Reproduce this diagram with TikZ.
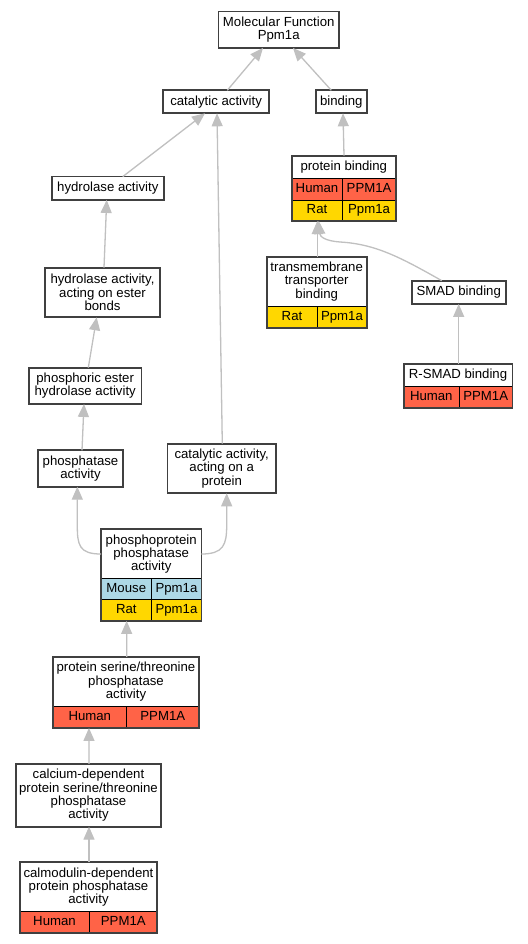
\documentclass[tikz,border=0pt]{standalone}
\usepackage{fontspec}
\setmainfont{Liberation Sans}
\usetikzlibrary{arrows.meta,fit}
\definecolor{human}{HTML}{FF6347}
\definecolor{ratcol}{HTML}{FFD700}
\definecolor{mousecol}{HTML}{ADD8E6}
\definecolor{edgegray}{HTML}{C0C0C0}
\definecolor{framegray}{HTML}{404040}
\begin{document}
\begin{tikzpicture}[x=1pt,y=-1pt,
  every node/.style={inner sep=0pt, outer sep=0pt, font=\fontsize{13.2}{13.4}\selectfont, align=center},
  gbox/.style={draw=framegray, line width=1.7pt, fill=white},
  ttl/.style={fill=white},
  tcell/.style={draw=black, line width=0.9pt, text height=9.4pt, text depth=2.8pt},
  hum/.style={tcell, fill=human},
  ratc/.style={tcell, fill=ratcol},
  mou/.style={tcell, fill=mousecol},
  tframe/.style={draw=framegray, line width=1.7pt, fit=#1},
  conn/.style={draw=edgegray, color=edgegray, line width=1.3pt, -{Triangle[length=13pt,width=11pt]}}
]
\fill[white] (0,0) rectangle (527,944);
\useasboundingbox (0,0) rectangle (527,944);

% single boxes
\node[gbox, minimum width=120.7, minimum height=36.3] (mf) at (278.7,29.8) {Molecular Function\\Ppm1a};
\node[gbox, minimum width=105.6, minimum height=23] (cat) at (216.1,101.8) {catalytic activity};
\node[gbox, minimum width=51.3, minimum height=23] (bind) at (341.3,101.8) {binding};
\node[gbox, minimum width=112.3, minimum height=23.3] (ha) at (107.8,188.3) {hydrolase activity};
\node[gbox, minimum width=115, minimum height=49.6] (haeb) at (102.5,292.5) {hydrolase activity,\\acting on ester\\bonds};
\node[gbox, minimum width=94, minimum height=23.3] (smad) at (458.7,292.3) {SMAD binding};
\node[gbox, minimum width=112.3, minimum height=36.3] (pe) at (85.2,385.8) {phosphoric ester\\hydrolase activity};
\node[gbox, minimum width=84.4, minimum height=36.4] (pa) at (80.5,468.5) {phosphatase\\activity};
\node[gbox, minimum width=108.7, minimum height=49.6] (capro) at (221.7,468.5) {catalytic activity,\\acting on a\\protein};
\node[gbox, minimum width=145.6, minimum height=62.7] (cd) at (88.5,795.3) {calcium-dependent\\protein serine/threonine\\phosphatase\\activity};

% protein binding
\node[ttl, minimum width=104.3, minimum height=22.6] (pb) at (343.8,167) {protein binding};
\node[hum, minimum width=50.6, minimum height=21.7] (pbh1) at (317,189.1) {Human};
\node[hum, minimum width=53.7, minimum height=21.7] (pbh2) at (369.1,189.1) {PPM1A};
\node[ratc, minimum width=50.6, minimum height=21] (pbr1) at (317,210.5) {Rat};
\node[ratc, minimum width=53.7, minimum height=21] (pbr2) at (369.1,210.5) {Ppm1a};
\node[tframe={(pb)(pbr1)(pbr2)}] (pbf) {};

% transmembrane transporter binding
\node[ttl, minimum width=100, minimum height=49.3] (tm) at (316.7,281.3) {transmembrane\\transporter\\binding};
\node[ratc, minimum width=50.6, minimum height=21.7] (tmr1) at (292,316.8) {Rat};
\node[ratc, minimum width=49.4, minimum height=21.7] (tmr2) at (342,316.8) {Ppm1a};
\node[tframe={(tm)(tmr1)(tmr2)}] (tmf) {};

% R-SMAD binding
\node[ttl, minimum width=108.6, minimum height=22.7] (rsmad) at (458,375.3) {R-SMAD binding};
\node[hum, minimum width=55.3, minimum height=21] (rsh1) at (431.3,397.2) {Human};
\node[hum, minimum width=53.3, minimum height=21] (rsh2) at (485.7,397.2) {PPM1A};
\node[tframe={(rsmad)(rsh1)(rsh2)}] (rsmadf) {};

% phosphoprotein phosphatase activity
\node[ttl, minimum width=100.3, minimum height=49.4] (ppa) at (151.2,554) {phosphoprotein\\phosphatase\\activity};
\node[mou, minimum width=50.7, minimum height=21] (ppm1) at (126.3,589.2) {Mouse};
\node[mou, minimum width=49.6, minimum height=21] (ppm2) at (176.5,589.2) {Ppm1a};
\node[ratc, minimum width=50.7, minimum height=21.3] (ppr1) at (126.3,610.3) {Rat};
\node[ratc, minimum width=49.6, minimum height=21.3] (ppr2) at (176.5,610.3) {Ppm1a};
\node[tframe={(ppa)(ppr1)(ppr2)}] (ppaf) {};

% protein serine/threonine phosphatase activity
\node[ttl, minimum width=146, minimum height=49.7] (pst) at (126,681.8) {protein serine/threonine\\phosphatase\\activity};
\node[hum, minimum width=73.7, minimum height=21.3] (psth1) at (89.8,717.3) {Human};
\node[hum, minimum width=72.3, minimum height=21.3] (psth2) at (162.8,717.3) {PPM1A};
\node[tframe={(pst)(psth1)(psth2)}] (pstf) {};

% calmodulin-dependent protein phosphatase activity
\node[ttl, minimum width=137.6, minimum height=49.4] (cm) at (88.5,887) {calmodulin-dependent\\protein phosphatase\\activity};
\node[hum, minimum width=69.6, minimum height=21.6] (cmh1) at (54.5,922.5) {Human};
\node[hum, minimum width=68, minimum height=21.6] (cmh2) at (123.3,922.5) {PPM1A};
\node[tframe={(cm)(cmh1)(cmh2)}] (cmf) {};

% connectors
\draw[conn] ([xshift=11.2pt]cat.north) -- ([xshift=-15.7pt]mf.south);
\draw[conn] ([xshift=-10pt]bind.north) -- ([xshift=14.3pt]mf.south);
\draw[conn] ([xshift=0.2pt]pbf.north) -- ([xshift=1.7pt]bind.south);
\draw[conn] ([xshift=14.9pt]ha.north) -- ([xshift=-11.1pt]cat.south);
\draw[conn] ([xshift=0.6pt]capro.north) -- ([xshift=0.9pt]cat.south);
\draw[conn] ([xshift=1.5pt]haeb.north) -- ([xshift=-1.1pt]ha.south);
\draw[conn] ([xshift=3.1pt]pe.north) -- ([xshift=-5.8pt]haeb.south);
\draw[conn] ([xshift=1.5pt]pa.north) -- ([xshift=-1.2pt]pe.south);
\draw[conn] ([xshift=0.6pt]tmf.north) -- ([xshift=-26.5pt]pbf.south);
\draw[conn] ([xshift=-17pt]smad.north) .. controls (400,257) and (375,244) .. (340,242) .. controls (326,241) and (320,237) .. ([xshift=-25pt]pbf.south);
\draw[conn] ([xshift=0.7pt]rsmadf.north) -- ([xshift=0pt]smad.south);
\draw[conn] (ppa.west) .. controls (79,554) and (77.3,545) .. (77.3,525) -- ([xshift=-3.2pt]pa.south);
\draw[conn] (ppa.east) .. controls (223.5,554) and (226.7,545) .. (226.7,525) -- ([xshift=5pt]capro.south);
\draw[conn] ([xshift=0.7pt]pstf.north) -- ([xshift=-24.5pt]ppaf.south);
\draw[conn] ([xshift=0.5pt]cd.north) -- ([xshift=-37pt]pstf.south);
\draw[conn] ([xshift=0.5pt]cmf.north) -- ([xshift=0.5pt]cd.south);
\end{tikzpicture}
\end{document}
